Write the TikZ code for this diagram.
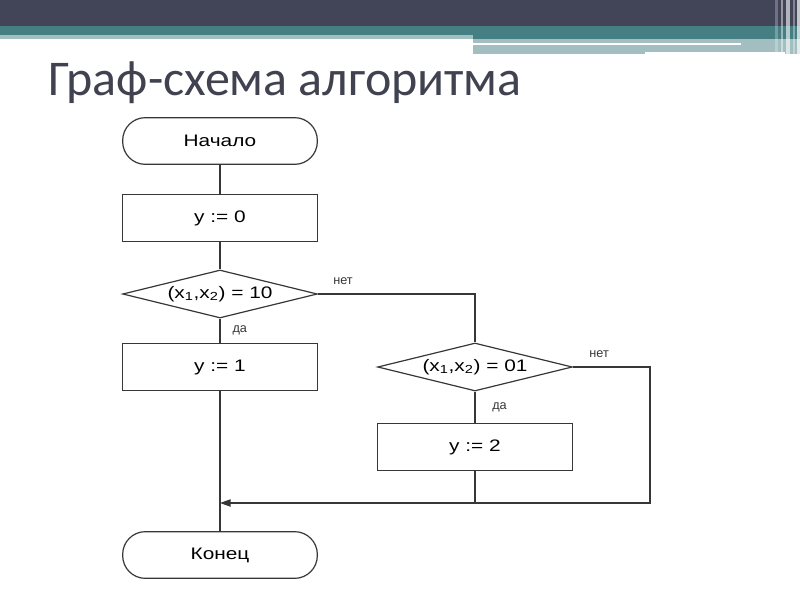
\documentclass[tikz,border=0pt]{standalone}
\usepackage{fontspec}
\setmainfont{Liberation Sans}[FakeStretch=1.25]
\newfontfamily\labelfont{Liberation Sans}
\newfontfamily\titlefont{Carlito}
\usepackage{xcolor}
\usetikzlibrary{shapes.geometric, arrows.meta}

\definecolor{bannerdark}{RGB}{66,68,87}
\definecolor{bannerteal}{RGB}{70,127,131}
\definecolor{bannerlight}{RGB}{163,190,193}
\definecolor{titlegray}{RGB}{64,66,80}
\definecolor{linegray}{RGB}{55,55,55}

\begin{document}
\begin{tikzpicture}[x=0.75pt,y=-0.75pt,line width=0.9pt,
    term/.style={draw=linegray,rectangle,rounded corners=17pt,minimum width=146pt,minimum height=35pt,font=\fontsize{12.5}{14}\selectfont},
    proc/.style={draw=linegray,rectangle,minimum width=146pt,minimum height=35pt,font=\fontsize{12.5}{14}\selectfont},
    cond/.style={draw=linegray,diamond,aspect=4,inner sep=0pt,minimum width=146pt,minimum height=36pt,font=\fontsize{12.5}{14}\selectfont},
    lbl/.style={font=\labelfont\fontsize{9.5}{11}\selectfont,inner sep=1pt}]
    \useasboundingbox (0,0) rectangle (800,600);

    % banner
    \fill[bannerdark] (0,0) rectangle (800,26);
    \fill[bannerteal] (0,26) rectangle (800,35);
    \fill[bannerlight] (0,35) rectangle (473,39);
    \fill[bannerteal] (473,35) rectangle (800,39);
    \fill[bannerlight] (473,39) rectangle (800,54);
    \fill[white] (473,43) rectangle (741,45);
    \fill[white] (645,52) rectangle (785,54);
    \fill[white,opacity=.25] (775,0) rectangle (778,54);
    \fill[white,opacity=.45] (781,0) rectangle (783,54);
    \fill[white,opacity=.6] (786,0) rectangle (790,54);
    \fill[white,opacity=.35] (793,0) rectangle (795,54);
    \fill[white,opacity=.7] (797,0) rectangle (800,54);

    \node[anchor=base west,inner sep=0pt,text=titlegray,font=\titlefont\fontsize{37.5}{42}\selectfont] (title) at (48,95) {Граф-схема алгоритма};

    \node[term] (start) at (220,141) {Начало};
    \node[proc] (y0) at (220,218) {y := 0};
    \node[cond] (d1) at (220,294) {(x\textsubscript{1},x\textsubscript{2}) = 10};
    \node[proc] (y1) at (220,367) {y := 1};
    \node[cond] (d2) at (475,367) {(x\textsubscript{1},x\textsubscript{2}) = 01};
    \node[proc] (y2) at (475,447) {y := 2};
    \node[term] (stop) at (220,555) {Конец};
    \coordinate (turn) at (650,503);
    \coordinate (merge) at (220,503);

    \draw[linegray] (start) -- (y0);
    \draw[linegray] (y0) -- (d1);
    \draw[linegray] (d1) -- node[lbl,right=8pt] {да} (y1);
    \draw[linegray] (y1) -- (stop);
    \draw[linegray] (d1.east) -| node[lbl,pos=0.08,above=5.5pt] {нет} (d2.north);
    \draw[linegray] (d2) -- node[lbl,right=11.5pt] {да} (y2);
    \draw[linegray] (y2) -- (y2.south |- merge);
    \draw[linegray,-{Triangle[length=8pt,width=5.5pt]}] (d2.east) -| node[lbl,pos=0.17,above=5.5pt] {нет} (turn) -- (merge);
\end{tikzpicture}
\end{document}
